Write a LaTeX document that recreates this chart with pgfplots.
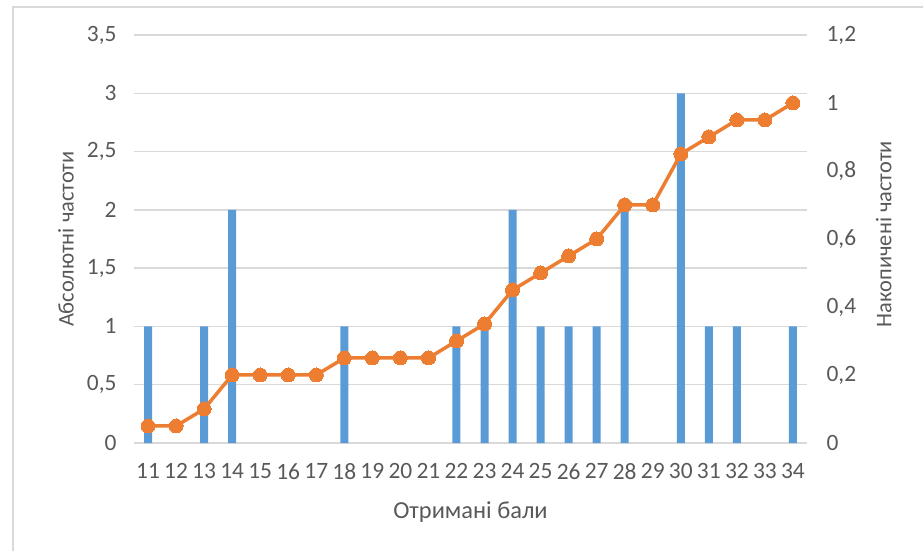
\documentclass[border=0pt]{standalone}
\usepackage{pgfplots}
\pgfplotsset{compat=1.18}
\usepackage{fontspec}
\setmainfont{Carlito}
\definecolor{barblue}{HTML}{5B9BD5}
\definecolor{lineorange}{HTML}{ED7D31}
\definecolor{txtgray}{HTML}{595959}
\definecolor{gridgray}{HTML}{D9D9D9}
\pgfplotstableread{
x f
11 1
13 1
14 2
18 1
22 1
23 1
24 2
25 1
26 1
27 1
28 2
30 3
31 1
32 1
34 1
}\bartable
\pgfplotstableread{
x c
11 0.05
12 0.05
13 0.10
14 0.20
15 0.20
16 0.20
17 0.20
18 0.25
19 0.25
20 0.25
21 0.25
22 0.30
23 0.35
24 0.45
25 0.50
26 0.55
27 0.60
28 0.70
29 0.70
30 0.85
31 0.90
32 0.95
33 0.95
34 1.00
}\cumtable
\pgfplotsset{
  common/.style={
    scale only axis, width=673bp, height=408bp,
    at={(0,0)}, anchor=south west,
    xmin=10.5, xmax=34.5,
    axis line style={draw=none},
    major tick length=0pt,
    /pgf/number format/assume math mode=true,
    /pgf/number format/use comma,
    tick label style={font=\fontsize{23.5}{26}\selectfont, text=txtgray},
  }
}
\begin{document}
\begin{tikzpicture}
\useasboundingbox (-134bp,-108bp) rectangle (789bp,443bp);
\draw[gridgray, line width=1.8bp] (-121bp,-110bp) -- (-121bp,436bp) -- (792bp,436bp);
\begin{axis}[common,
  ymin=0, ymax=3.5, ytick={0,0.5,...,3.5},
  xtick={11,...,34},
  ymajorgrids, grid style={gridgray, line width=1.3bp},
  yticklabel style={xshift=-14bp},
  xticklabel style={yshift=-17bp},
  ylabel={Абсолютні частоти},
  xlabel={Отримані бали},
  every axis y label/.style={at={(axis description cs:-0.101,0.5)}, rotate=90, anchor=center, font=\fontsize{22.5}{25}\selectfont, text=txtgray},
  every axis x label/.style={at={(axis description cs:0.5,-0.169)}, anchor=center, font=\fontsize{24.5}{27}\selectfont, text=txtgray},
]
\addplot[ybar, bar width=8bp, fill=barblue, draw=none] table[x=x, y=f] {\bartable};
\end{axis}
\begin{axis}[common,
  ymin=0, ymax=1.2, ytick={0,0.2,...,1.2},
  axis y line*=right, axis x line=none,
  yticklabel style={xshift=16bp},
  ylabel={Накопичені частоти},
  every axis y label/.style={at={(axis description cs:1.114,0.512)}, rotate=90, anchor=center, font=\fontsize{22.5}{25}\selectfont, text=txtgray},
]
\addplot[lineorange, line width=3.5bp, mark=*, mark size=7bp, mark options={fill=lineorange, draw=lineorange, line width=0pt}] table[x=x, y=c] {\cumtable};
\end{axis}
\end{tikzpicture}
\end{document}
